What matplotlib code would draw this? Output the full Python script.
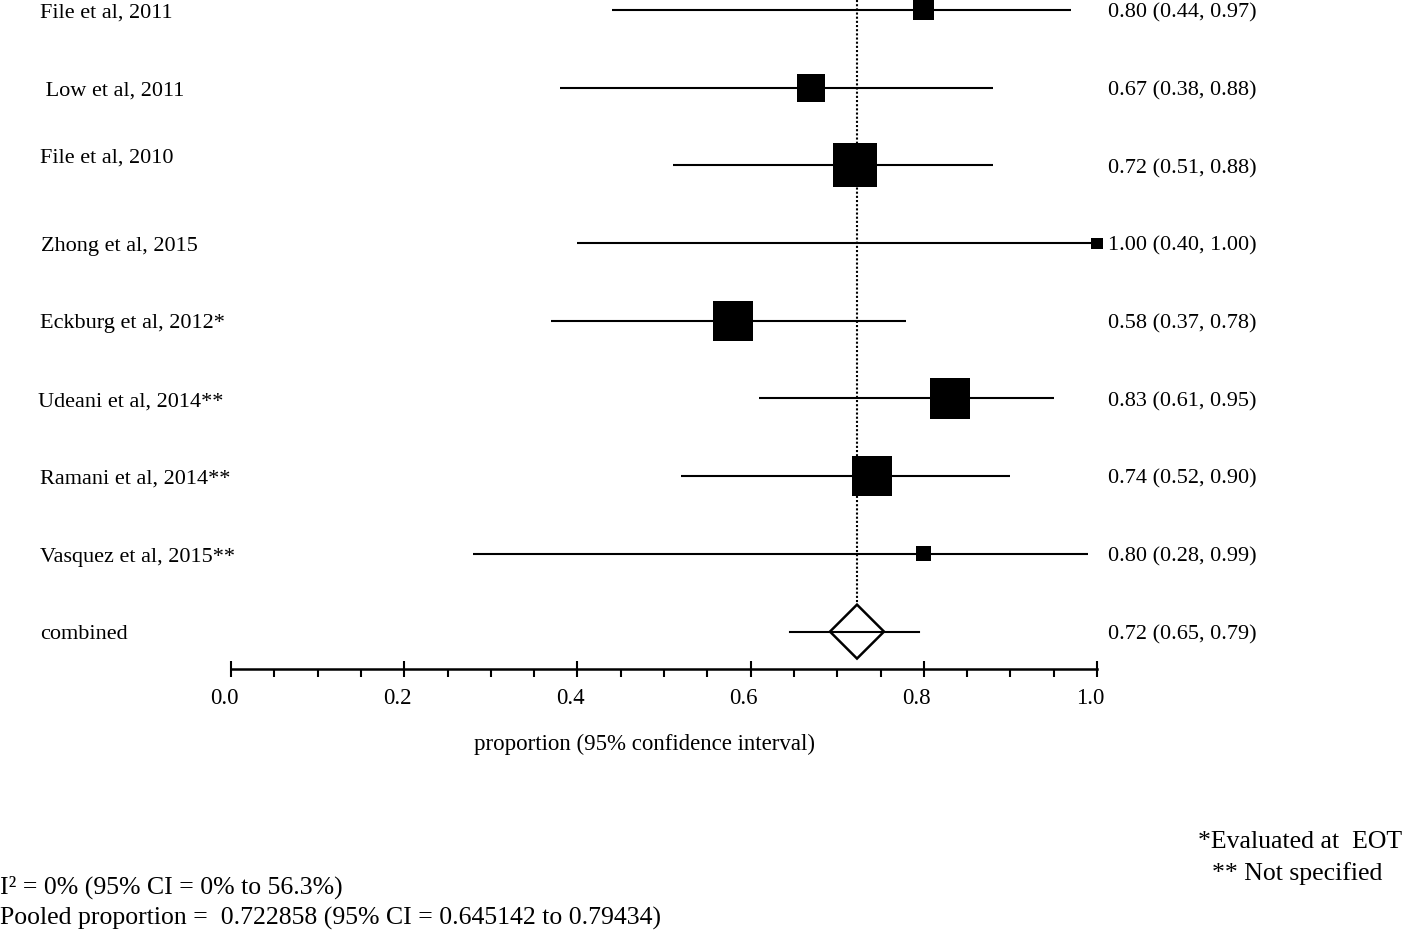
import matplotlib
matplotlib.use("Agg")
import matplotlib.pyplot as plt
from matplotlib.transforms import blended_transform_factory, ScaledTranslation
from matplotlib.patches import Polygon
from matplotlib.ticker import MultipleLocator
import numpy as np

# ---------------- data ----------------
studies = ["File et al, 2011", " Low et al, 2011", "File et al, 2010", "Zhong et al, 2015",
           "Eckburg et al, 2012*", "Udeani et al, 2014**", "Ramani et al, 2014**",
           "Vasquez et al, 2015**"]
proportion = [0.80, 0.67, 0.72, 1.00, 0.58, 0.83, 0.74, 0.80]
ci_low = [0.44, 0.38, 0.51, 0.40, 0.37, 0.61, 0.52, 0.28]
ci_high = [0.97, 0.88, 0.88, 1.00, 0.78, 0.95, 0.90, 0.99]
weights = [5.3, 9.4, 23.3, 1.5, 19.3, 19.3, 19.3, 2.7]   # relative study weights (%)
pooled = 0.722858
pooled_low = 0.645142
pooled_high = 0.79434
combined_label = "combined"
tick_values = [0.0, 0.2, 0.4, 0.6, 0.8, 1.0]
tick_labels = ["0.0", "0.2", "0.4", "0.6", "0.8", "1.0"]
xlabel = "proportion (95% confidence interval)"
heterogeneity_text = "I² = 0% (95% CI = 0% to 56.3%)"
pooled_text = "Pooled proportion =  0.722858 (95% CI = 0.645142 to 0.79434)"
notes = ["*Evaluated at  EOT", "** Not specified"]

# ---------------- layout ----------------
W, H, DPI = 1418, 932, 100
plt.rcParams['font.family'] = ['Liberation Serif', 'DejaVu Serif']
fig = plt.figure(figsize=(W / DPI, H / DPI), dpi=DPI)
ax_left, ax_right, ax_top, ax_bottom = 231, 1097, 0, 669
ax = fig.add_axes([ax_left / W, 1 - ax_bottom / H, (ax_right - ax_left) / W, (ax_bottom - ax_top) / H])

row_px = 77.7
first_row_px = 10
n = len(studies)
rows = np.arange(n + 1)
ax.set_xlim(0, 1)
ax.set_ylim((ax_bottom - first_row_px) / row_px, (ax_top - first_row_px) / row_px)

LW = 1.5
# pooled dotted line
diamond_hh = 0.347
diamond_hw = 0.0312
ax.plot([pooled, pooled], [ax.get_ylim()[1], rows[n] - diamond_hh], color='black', lw=1.5,
        linestyle=(0, (1, 1)), zorder=1)

# study CIs and boxes
for i in range(n):
    ax.plot([ci_low[i], ci_high[i]], [rows[i], rows[i]], color='black', lw=LW, zorder=2,
            solid_capstyle='butt', clip_on=False)
k_px = 44 / np.sqrt(23.3)
sides_pt = [k_px * np.sqrt(w) * 72 / DPI for w in weights]
ax.scatter(proportion, rows[:n], s=[s ** 2 for s in sides_pt], marker='s', color='black',
           linewidths=0, zorder=3, clip_on=False)

# combined
ax.plot([pooled_low, pooled_high], [rows[n], rows[n]], color='black', lw=LW, zorder=2)
diamond = Polygon([[pooled - diamond_hw, rows[n]], [pooled, rows[n] - diamond_hh],
                   [pooled + diamond_hw, rows[n]], [pooled, rows[n] + diamond_hh]],
                  closed=True, facecolor='none', edgecolor='black', lw=1.8, zorder=3)
ax.add_patch(diamond)

# axes styling
for s in ['top', 'right', 'left']:
    ax.spines[s].set_visible(False)
ax.spines['bottom'].set_linewidth(1.8)
ax.set_yticks([])
ax.set_xticks(tick_values)
ax.set_xticklabels(tick_labels, fontsize=16.5)
ax.xaxis.set_minor_locator(MultipleLocator(0.05))
ax.tick_params(axis='x', which='major', direction='inout', length=12, width=1.5, pad=8)
ax.tick_params(axis='x', which='minor', direction='out', length=6, width=1.5)
off = ScaledTranslation(-7 / DPI, 0, fig.dpi_scale_trans)
for lab in ax.get_xticklabels():
    lab.set_transform(lab.get_transform() + off)

# text
FS = 16
tr_left = blended_transform_factory(fig.transFigure, ax.transData)
text_shift = 0.04
label_y_shift = {2: -0.14}
label_x_px = {5: 38, 3: 41}
for i, name in enumerate(studies + [combined_label]):
    ax.text(label_x_px.get(i, 40) / W, rows[i] + text_shift + label_y_shift.get(i, 0.0), name,
            transform=tr_left, ha='left', va='center', fontsize=FS)
values = [f"{p:.2f} ({l:.2f}, {h:.2f})" for p, l, h in zip(proportion, ci_low, ci_high)]
values.append(f"{pooled:.2f} ({pooled_low:.2f}, {pooled_high:.2f})")
for i, v in enumerate(values):
    ax.text(1108 / W, rows[i] + text_shift, v, transform=tr_left, ha='left', va='center',
            fontsize=FS)

fig.text(645 / W, 1 - 744 / H, xlabel, ha='center', va='center', fontsize=16.5)
fig.text(0, 1 - 887 / H, heterogeneity_text, ha='left', va='center', fontsize=18.5)
fig.text(0, 1 - 918 / H, pooled_text, ha='left', va='center', fontsize=18.5)
fig.text(1198 / W, 1 - 842 / H, notes[0], ha='left', va='center', fontsize=18.5)
fig.text(1212 / W, 1 - 874 / H, notes[1], ha='left', va='center', fontsize=18.5)

fig.savefig("out.png", dpi=DPI, facecolor='white')
